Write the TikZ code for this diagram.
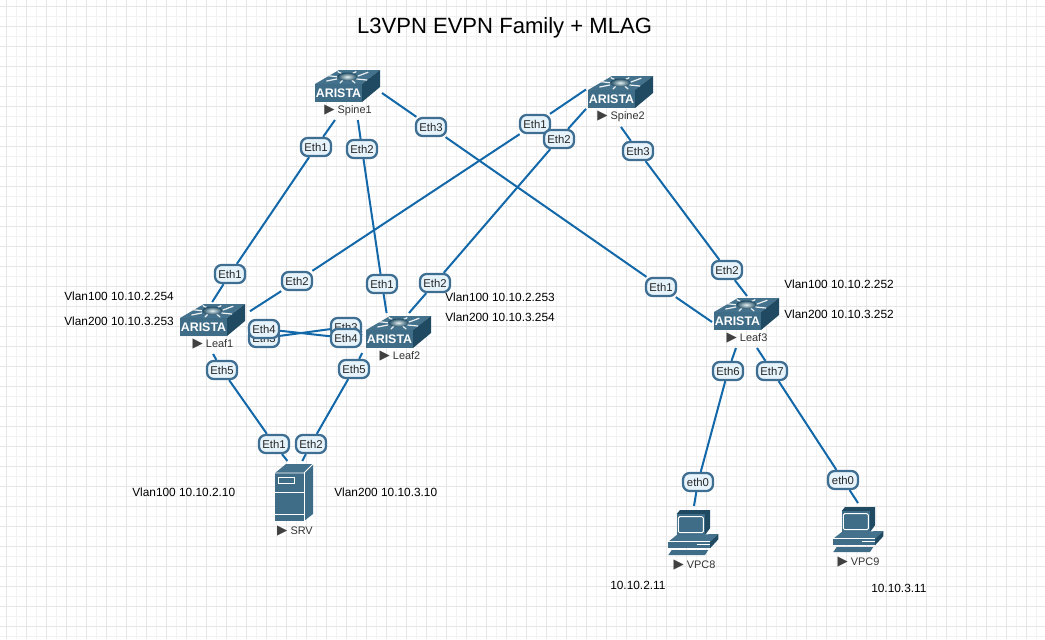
\documentclass[tikz,border=0pt]{standalone}
\usepackage{fontspec}
\setmainfont{Liberation Sans}
\newfontfamily\symfont{DejaVu Sans}
\definecolor{linkc}{HTML}{1268A8}
\definecolor{pillb}{HTML}{3F6E93}
\definecolor{pillf}{HTML}{E6F3FB}
\definecolor{devf}{HTML}{3F6D88}
\definecolor{devt}{HTML}{44728C}
\definecolor{devs}{HTML}{1F4A62}
\definecolor{gridmaj}{HTML}{E6E6E6}
\definecolor{gridmin}{HTML}{F2F2F2}
\pgfdeclarelayer{gridlayer}
\pgfdeclarelayer{linklayer}
\pgfsetlayers{gridlayer,linklayer,main}
\tikzset{
  x=0.75pt,y=-0.75pt,
  port/.style={draw=pillb,fill=pillf,line width=1.7pt,rounded corners=5pt,minimum width=22.5pt,minimum height=13.5pt,inner sep=0pt,font=\fontsize{8.5}{10}\selectfont,text=black!85},
  link/.style={draw=linkc,line width=1.5pt},
  devbox/.style={inner sep=0pt,outer sep=0pt,draw=none,fill=none},
  devlabel/.style={inner sep=0pt,font=\fontsize{8.2}{10}\selectfont,text=black!80},
  addr/.style={inner sep=0pt,anchor=west,font=\fontsize{8.9}{11}\selectfont,text=black},
  spoke/.style={draw=white!90!devf,line width=0.9pt,line cap=round},
  whiteline/.style={draw=white,line width=0.6pt},
}
\newcommand{\devname}[1]{{\symfont\fontsize{10}{10}\selectfont\textcolor{black!75}{▶}}\ #1}
\newcommand{\devspot}[5]{\node[devbox,minimum width=#4*0.75pt,minimum height=#5*0.75pt] (#1) at (#2,#3) {};}
\newcommand{\aristaicon}[3]{%
  \begin{scope}[shift={(#2,#3)}]
    \fill[devt] (0,14) -- (24,0) -- (65,0) -- (47,14) -- cycle;
    \fill[devs] (47,14) -- (65,0) -- (65,17) -- (47,32) -- cycle;
    \fill[devf] (0,14) rectangle (47,32);
    \draw[spoke] (11.7,11) -- (21.7,9);
    \draw[spoke] (13,5.7) -- (21.7,6.7);
    \draw[spoke] (23,1.7) -- (28,4.3);
    \draw[spoke] (41,1.7) -- (36,4.3);
    \draw[spoke] (53,2.3) -- (43,6);
    \draw[spoke] (51.7,10) -- (41.7,9);
    \draw[spoke] (25,13) -- (28,10);
    \draw[spoke] (40,13) -- (36.7,10);
    \shade[inner color=white!90!teal,outer color=devs] (32.3,6.7) ellipse [x radius=10,y radius=4.2];
    \node[inner sep=0pt,text=white,font=\fontsize{9.3}{10}\selectfont\bfseries] (#1logo) at (23.5,23.3) {ARISTA};
  \end{scope}}
\newcommand{\pcicon}[2]{%
  \begin{scope}[shift={(#1,#2)}]
    \fill[devs] (8.7,5) -- (12,1) -- (42,1) -- (42,19.3) -- (37,26) -- cycle;
    \fill[devf] (8.7,5) rectangle (37,26);
    \draw[draw=white,line width=0.7pt,rounded corners=1pt] (10.3,7.7) rectangle (35.3,23.7);
    \fill[devt] (0.3,32.7) -- (8.7,26) -- (50.3,25) -- (42,32.7) -- cycle;
    \fill[devs] (42,32.7) -- (50.3,25) -- (50.3,30.3) -- (42,39.3) -- cycle;
    \fill[devf] (0.3,32.7) rectangle (42,39.3);
    \draw[whiteline] (0.3,32.7) -- (42,32.7);
    \draw[whiteline] (28.7,35) -- (42,35);
    \fill[devf] (3.7,41) -- (40.3,41) -- (37,46) -- (0.3,46) -- cycle;
  \end{scope}}
\begin{document}
\begin{tikzpicture}
\useasboundingbox (0,0) rectangle (1045,639);
\begin{pgfonlayer}{gridlayer}
  \fill[white] (0,0) rectangle (1045,639);
  \foreach \k in {0,...,52} {
    \draw[gridmin,line width=0.75pt] ({16.5+20*\k},0) -- ({16.5+20*\k},639);
  }
  \foreach \k in {0,...,31} {
    \draw[gridmin,line width=0.75pt] (0,{16.5+20*\k}) -- (1045,{16.5+20*\k});
  }
  \foreach \k in {0,...,52} {
    \draw[gridmaj,line width=0.75pt] ({6.5+20*\k},0) -- ({6.5+20*\k},639);
  }
  \foreach \k in {0,...,31} {
    \draw[gridmaj,line width=0.75pt] (0,{6.5+20*\k}) -- (1045,{6.5+20*\k});
  }
\end{pgfonlayer}

\node[inner sep=0pt,font=\fontsize{16.55}{19}\selectfont,text=black] (title) at (504.5,28) {L3VPN EVPN Family + MLAG};

% invisible device footprints
\devspot{spine1}{347}{93}{70}{54}
\devspot{spine2}{621}{99.5}{70}{55}
\devspot{leaf1}{214}{328}{72}{52}
\devspot{leaf2}{395.5}{333}{75}{40}
\devspot{leaf3}{747}{322}{70}{52}
\devspot{srv}{294}{492}{44}{62}
\devspot{vpc8}{694}{532}{56}{52}
\devspot{vpc9}{858}{528}{56}{50}

% icons
\aristaicon{spine1}{315}{70}
\aristaicon{spine2}{588}{76}
\aristaicon{leaf1}{180}{304}
\aristaicon{leaf2}{366}{316}
\aristaicon{leaf3}{714}{298}
\begin{scope}[shift={(275,464)}]
  \fill[devt] (0,9) -- (11,0) -- (38,0) -- (29,9) -- cycle;
  \fill[devf] (29,9) -- (38,0) -- (38,50) -- (29,57) -- cycle;
  \fill[devf] (0,9) rectangle (29,57);
  \draw[whiteline] (0,9) -- (29,9) -- (38,0);
  \draw[whiteline] (29,9) -- (29,57);
  \draw[whiteline] (0,28) -- (29,28);
  \draw[whiteline] (0,50) -- (29,50);
  \draw[draw=white,line width=0.7pt] (3.5,13.5) rectangle (19.5,19.5);
\end{scope}
\pcicon{668}{509}
\pcicon{833}{506}

% device labels
\node[devlabel] (spine1lab) at (348,110) {\devname{Spine1}};
\node[devlabel] (spine2lab) at (621,116) {\devname{Spine2}};
\node[devlabel] (leaf1lab) at (213,344) {\devname{Leaf1}};
\node[devlabel] (leaf2lab) at (400,356) {\devname{Leaf2}};
\node[devlabel] (leaf3lab) at (747,338) {\devname{Leaf3}};
\node[devlabel] (srvlab) at (295,531) {\devname{SRV}};
\node[devlabel] (vpc8lab) at (694.5,565) {\devname{VPC8}};
\node[devlabel] (vpc9lab) at (858.5,562) {\devname{VPC9}};

% ports
\node[port] (s1e1) at (316,147) {Eth1};
\node[port] (s1e2) at (362,149) {Eth2};
\node[port] (s1e3) at (431,127) {Eth3};
\node[port] (s2e1) at (535,124) {Eth1};
\node[port] (s2e2) at (559,139) {Eth2};
\node[port] (s2e3) at (638,151) {Eth3};
\node[port] (l1e1) at (230,274) {Eth1};
\node[port] (l1e2) at (297,281) {Eth2};
\node[port] (l1e3) at (264,338) {Eth3};
\node[port] (l1e4) at (264,329) {Eth4};
\node[port] (l1e5) at (222,370) {Eth5};
\node[port] (l2e1) at (382,284) {Eth1};
\node[port] (l2e2) at (435,283) {Eth2};
\node[port] (l2e3) at (346,327) {Eth3};
\node[port] (l2e4) at (346,338) {Eth4};
\node[port] (l2e5) at (354,369) {Eth5};
\node[port] (l3e1) at (661,287) {Eth1};
\node[port] (l3e2) at (727,270) {Eth2};
\node[port] (l3e6) at (728,371) {Eth6};
\node[port] (l3e7) at (772,371) {Eth7};
\node[port] (srve1) at (274,444) {Eth1};
\node[port] (srve2) at (311,444) {Eth2};
\node[port] (v8e0) at (698,482) {eth0};
\node[port] (v9e0) at (843,480) {eth0};

% connectors
\begin{pgfonlayer}{linklayer}
  \draw[link] (spine1.246) -- (s1e1) -- (l1e1) -- (leaf1.94);
  \draw[link] (spine1.292) -- (s1e2) -- (l2e1) -- (leaf2.114);
  \draw[link] (spine1.east) -- (s1e3) -- (l3e1) -- (leaf3.west);
  \draw[link] (spine2.164.8) -- (s2e1) -- (l1e2) -- (leaf1.25.3);
  \draw[link] (spine2.195.2) -- (s2e2) -- (l2e2) -- (leaf2.56);
  \draw[link] (spine2.south) -- (s2e3) -- (l3e2) -- (leaf3.north);
  \draw[link] (leaf1.east) -- (l1e3) -- (l2e3) -- (leaf2.west);
  \draw[link] (leaf1.east) -- (l1e4) -- (l2e4) -- (leaf2.west);
  \draw[link] (leaf1.268) -- (l1e5) -- (srve1) -- (srv.102.7);
  \draw[link] (leaf2.211.6) -- (l2e5) -- (srve2) -- (srv.75.5);
  \draw[link] (leaf3.247) -- (l3e6) -- (v8e0) -- (vpc8.north);
  \draw[link] (leaf3.291) -- (l3e7) -- (v9e0) -- (vpc9.north);
\end{pgfonlayer}

% address notes
\node[addr] (a1) at (64,296) {Vlan100 10.10.2.254};
\node[addr] (a2) at (64,321) {Vlan200 10.10.3.253};
\node[addr] (a3) at (445,297) {Vlan100 10.10.2.253};
\node[addr] (a4) at (445,317) {Vlan200 10.10.3.254};
\node[addr] (a5) at (784,284) {Vlan100 10.10.2.252};
\node[addr] (a6) at (784,314) {Vlan200 10.10.3.252};
\node[addr] (a7) at (132,492) {Vlan100 10.10.2.10};
\node[addr] (a8) at (334,492) {Vlan200 10.10.3.10};
\node[addr] (a9) at (610,585) {10.10.2.11};
\node[addr] (a10) at (871,588) {10.10.3.11};
\end{tikzpicture}
\end{document}
